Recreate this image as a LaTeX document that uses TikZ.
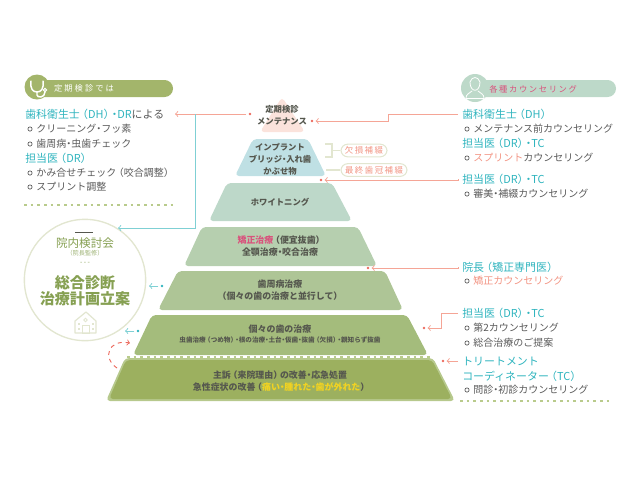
\documentclass[tikz,border=0pt]{standalone}
\usepackage{fontspec}
\usetikzlibrary{calc}
\setmainfont{Noto Sans CJK JP}
\definecolor{tealtext}{HTML}{2FB4BE}
\definecolor{tealline}{HTML}{7FD0D4}
\definecolor{greytext}{HTML}{5A5A5A}
\definecolor{darktext}{HTML}{55574E}
\definecolor{salmon}{HTML}{F5A596}
\definecolor{salmontext}{HTML}{F29483}
\definecolor{reddot}{HTML}{EC6A5E}
\definecolor{rosetext}{HTML}{D9527C}
\definecolor{olive}{HTML}{A3B56B}
\definecolor{olivetext}{HTML}{86A052}
\definecolor{mint}{HTML}{BDD9C9}
\definecolor{paleline}{HTML}{E2E6D0}
\definecolor{dotgreen}{HTML}{B9CB8C}
\definecolor{tiera}{HTML}{FBE3DC}
\definecolor{tierb}{HTML}{BFE0E4}
\definecolor{tierc}{HTML}{BDD8C9}
\definecolor{tierd}{HTML}{B6CFAF}
\definecolor{tiere}{HTML}{AEC596}
\definecolor{tierf}{HTML}{A4BC7C}
\definecolor{tierg}{HTML}{9CB05F}
\definecolor{tiergedge}{HTML}{B7C98D}
\definecolor{yellowtext}{HTML}{F2D321}
\def\lp{\kern-.25em（}
\def\rp{）\kern-.25em}
\def\md{\kern-.25em・\kern-.25em}
\tikzset{
	tier/.style={rounded corners=3, draw=none},
	tierlabel/.style={align=center, inner sep=0, text=darktext, font=\fontsize{6.25}{9}\selectfont\bfseries},
	lowerlabel/.style={tierlabel, font=\fontsize{6.7}{9}\selectfont\bfseries},
	listhead/.style={anchor=west, inner sep=0, text=tealtext, font=\fontsize{8.2}{10}\selectfont},
	listitem/.style={anchor=west, inner sep=0, text=greytext, font=\fontsize{7.5}{10}\selectfont},
	bulletmark/.style={circle, draw=greytext, line width=0.5, inner sep=0, minimum size=3.2},
	pinkline/.style={draw=salmon, line width=0.7},
	tealarrow/.style={draw=tealline, line width=0.7},
	reddotmark/.style={circle, fill=reddot, inner sep=0, minimum size=2},
	tealdotmark/.style={circle, fill=tealtext, inner sep=0, minimum size=2},
	tagpill/.style={draw=paleline, line width=0.8, fill=white, rounded corners=5, inner sep=0, minimum height=9.5, text=salmontext, font=\fontsize{6.3}{8}\selectfont\addfontfeature{LetterSpace=18}},
	dotrule/.style={draw=dotgreen, line width=0.8, dash pattern=on 2 off 3},
	icon/.style={draw=white, line width=1.1, line cap=round}
}
\begin{document}
\begin{tikzpicture}[x=0.75pt, y=-0.75pt]
	%%%%% START %%%%%
	\useasboundingbox (0, 0) rectangle (640, 480);
	
	% pyramid
	\fill[tier, fill=tiera] (282, 97) -- (305, 132) -- (260, 132) -- cycle;
	\fill[tier, fill=tierb] (253, 139) -- (308, 139) -- (326, 176) -- (235, 176) -- cycle;
	\fill[tier, fill=tierc] (227, 183) -- (332, 183) -- (352, 221) -- (209, 221) -- cycle;
	\fill[tier, fill=tierd] (202, 227) -- (358, 227) -- (377, 266) -- (184, 266) -- cycle;
	\fill[tier, fill=tiere] (178, 271) -- (385, 271) -- (403, 310) -- (158, 310) -- cycle;
	\fill[tier, fill=tierf] (152, 315) -- (407, 315) -- (428, 355) -- (133, 355) -- cycle;
	\fill[tier, fill=tiergedge] (125, 358) -- (433, 358) -- (455, 401) -- (106, 401) -- cycle;
	\fill[tier, fill=tierg] (126, 360) -- (432, 360) -- (452, 399) -- (109, 399) -- cycle;
	\draw[dotrule] (127, 357) -- (432, 357);
	
	\node[tierlabel] (maint) at (282, 115) {定期検診\\メンテナンス};
	\node[tierlabel] (implant) at (280, 159) {インプラント\\ブリッジ\md 入れ歯\\かぶせ物};
	\node[tierlabel] (white) at (280, 202) {ホワイトニング};
	\node[lowerlabel] (ortho) at (280, 246) {{\color{rosetext}矯正治療}\lp 便宜抜歯\rp\\全顎治療\md 咬合治療};
	\node[lowerlabel] (perio) at (280, 290) {歯周病治療\\（個々の歯の治療と並行して）};
	\node[lowerlabel] (each) at (280, 329) {個々の歯の治療};
	\node[tierlabel, font=\fontsize{4.95}{6}\selectfont\bfseries] (eachsub) at (280, 339.5) {虫歯治療\lp つめ物\rp\md 根の治療\md 土台\md 仮歯\md 抜歯\lp 欠損\rp\md 親知らず抜歯};
	\node[lowerlabel] (urgent) at (280, 381) {主訴\lp 来院理由\rp の改善\md 応急処置\\急性症状の改善\lp{\color{yellowtext}痛い\md 腫れた\md 歯が外れた}\rp};
	
	% tags
	\node[tagpill, minimum width=34.5] (tagloss) at (364, 150.5) {欠損補綴};
	\node[tagpill, minimum width=49.5] (tagcrown) at (374, 170) {最終歯冠補綴};
	\draw[draw=paleline, line width=1] (325, 144) -- (332, 144) -- (332, 157) -- (325, 157);
	\coordinate (bracketmid) at (332, 150.5);
	\coordinate (crownfoot) at (326, 170);
	\draw[draw=paleline, line width=1] (bracketmid) -- (tagloss.west);
	\draw[draw=paleline, line width=1] (crownfoot) -- (tagcrown.west);
	
	% left header
	\fill[olive, rounded corners=6.3] (30, 80) rectangle (173, 97);
	\fill[olive] (37, 87) circle (12.5);
	\draw[icon] (31, 81) .. controls (30, 89) and (33, 92) .. (37, 92) .. controls (41, 92) and (44, 89) .. (43, 81);
	\draw[icon] (37, 92) -- (37, 95) .. controls (37, 98) and (45, 98) .. (45, 92);
	\draw[icon, line width=0.8] (45, 90) circle (1.6);
	\node[inner sep=0, text=white, font=\fontsize{6.2}{8}\selectfont\addfontfeature{LetterSpace=25}] (lefthead) at (84, 88.5) {定期検診では};
	
	% left list
	\node[listhead] (hygienist) at (25, 114) {歯科衛生士\lp DH\rp\md DR{\color{greytext}による}};
	\node[bulletmark] (lb1) at (30, 129) {};
	\node[listitem] (cleaning) at (36, 129) {クリーニング\md フッ素};
	\node[bulletmark] (lb2) at (30, 144) {};
	\node[listitem] (caries) at (36, 144) {歯周病\md 虫歯チェック};
	\node[listhead] (dra) at (25, 158) {担当医\lp DR\rp};
	\node[bulletmark] (lb3) at (30, 173) {};
	\node[listitem] (bite) at (36, 173) {かみ合せチェック\lp 咬合調整\rp};
	\node[bulletmark] (lb4) at (30, 187) {};
	\node[listitem] (splint) at (36, 187) {スプリント調整};
	\coordinate (leftruleA) at (24, 205);
	\coordinate (leftruleB) at (173, 205);
	\draw[dotrule] (leftruleA) -- (leftruleB);
	
	% circle
	\node[circle, draw=paleline, line width=1, fill=white, minimum size=91, inner sep=0] (plan) at (85, 280) {};
	\draw[draw=darktext, line width=0.3] (75, 232) -- (93, 232);
	\node[inner sep=0, text=olivetext, font=\fontsize{8.7}{10}\selectfont] (meeting) at (85, 243) {院内検討会};
	\node[inner sep=0, text=olivetext!80, font=\fontsize{4.6}{6}\selectfont] (director) at (85, 253) {\lp 院長監修\rp};
	\node[inner sep=0, text=olivetext, font=\fontsize{5}{6}\selectfont] (dashes) at (85, 263) {- - -};
	\node[inner sep=0, text=olivetext, align=center, font=\fontsize{11.3}{12}\selectfont\bfseries] (plantitle) at (85, 291) {総合診断\\治療計画立案};
	\draw[draw=paleline, line width=0.9, fill=white, line join=round] (75, 321) -- (86, 312) -- (96, 321) -- (96, 333) -- (75, 333) -- cycle;
	\draw[draw=paleline, line width=0.7] (82, 325) rectangle (89, 333);
	\draw[draw=paleline, line width=0.7] (85.5, 320) circle (1.8);
	\fill[paleline] (78, 323) rectangle (80, 325);
	\fill[paleline] (92, 323) rectangle (94, 325);
	\fill[paleline] (78, 328) rectangle (80, 330);
	\fill[paleline] (92, 328) rectangle (94, 330);
	
	% right header
	\fill[mint, rounded corners=6.3] (470, 80) rectangle (616, 97);
	\fill[mint] (475, 88) circle (14);
	\draw[icon, line width=0.6] (470, 82) .. controls (470, 93) and (480, 93) .. (480, 82) .. controls (478, 76) and (472, 76) .. (470, 82);
	\draw[icon, line width=0.6] (466, 98) .. controls (466, 94) and (470, 93) .. (472, 91);
	\draw[icon, line width=0.6] (484, 98) .. controls (484, 94) and (480, 93) .. (478, 91);
	\draw[icon, line width=0.6] (466, 98) -- (484, 98);
	\node[anchor=west, inner sep=0, text=rosetext, font=\fontsize{6.2}{8}\selectfont\addfontfeature{LetterSpace=20}] (righthead) at (489, 89) {各種カウンセリング};
	
	% right list
	\node[listhead] (dh) at (462, 114) {歯科衛生士\lp DH\rp};
	\node[bulletmark] (rb1) at (467, 129) {};
	\node[listitem] (dhcare) at (473, 129) {メンテナンス前カウンセリング};
	\node[listhead] (drtc) at (462, 143) {担当医\lp DR\rp\md TC};
	\node[bulletmark] (rb2) at (467, 158) {};
	\node[listitem] (splintcare) at (473, 158) {{\color{salmontext}スプリント}カウンセリング};
	\node[listhead] (drtcb) at (462, 179) {担当医\lp DR\rp\md TC};
	\node[bulletmark] (rb3) at (467, 194) {};
	\node[listitem] (esthetic) at (473, 194) {審美\md 補綴カウンセリング};
	\node[listhead] (head) at (462, 267) {院長\lp 矯正専門医\rp};
	\node[bulletmark] (rb4) at (467, 281) {};
	\node[listitem, text=salmontext] (orthocare) at (473, 281) {矯正カウンセリング};
	\node[listhead] (drtcc) at (462, 313) {担当医\lp DR\rp\md TC};
	\node[bulletmark] (rb5) at (467, 328) {};
	\node[listitem] (second) at (473, 328) {第2カウンセリング};
	\node[bulletmark] (rb6) at (467, 343) {};
	\node[listitem] (proposal) at (473, 343) {総合治療のご提案};
	\node[listhead] (coordA) at (462, 361) {トリートメント};
	\node[listhead] (coordB) at (462, 376) {コーディネーター\lp TC\rp};
	\node[bulletmark] (rb7) at (467, 390) {};
	\node[listitem] (firstvisit) at (473, 390) {問診\md 初診カウンセリング};
	\coordinate (rightruleA) at (460, 401);
	\coordinate (rightruleB) at (610, 401);
	\draw[dotrule] (rightruleA) -- (rightruleB);
	
	% connectors
	\node[reddotmark] (dotmaint) at (250, 114) {};
	\node[reddotmark] (dotmaintr) at (312, 121) {};
	\node[reddotmark] (dotimplant) at (321, 180) {};
	\node[reddotmark] (dotortho) at (368, 268) {};
	\node[reddotmark] (doteach) at (424, 328) {};
	\node[reddotmark] (doturgent) at (443, 361) {};
	\node[tealdotmark] (dotperio) at (162, 286) {};
	\node[tealdotmark] (dotfirst) at (138, 331) {};
	\coordinate (lefttip) at (175, 114);
	\coordinate (tealtop) at (195, 114);
	\coordinate (tealcorner) at (195, 228);
	\coordinate (tealtip) at (118, 228);
	\coordinate (perioTip) at (149, 286);
	\coordinate (firstTip) at (125, 331);
	\coordinate (bendA) at (388, 121);
	\coordinate (bendB) at (388, 114);
	\coordinate (bendC) at (441, 328);
	\coordinate (bendD) at (441, 313);
	\coordinate (curveA) at (117, 368);
	\coordinate (curveB) at (130, 343);
	
	\draw[pinkline, ->] (dotmaint.west) ++(-2, 0) -- (lefttip);
	\draw[tealarrow, ->] (tealtop) -- (tealcorner) -- (tealtip);
	\draw[pinkline, ->] (dh.west) ++(-4, 0) -- (bendB) -- (bendA) -- ($(dotmaintr.east)+(2, 0)$);
	\draw[pinkline, ->] (drtcb.west) ++(-4, 0) |- ($(dotimplant.east)+(2, 0)$);
	\draw[pinkline, ->] (head.west) ++(-4, 0) |- ($(dotortho.east)+(2, 0)$);
	\draw[pinkline, ->] (drtcc.west) ++(-4, 0) -- (bendD) -- (bendC) -- ($(doteach.east)+(2, 0)$);
	\draw[pinkline, ->] (coordA.west) ++(-4, 0) -- ($(doturgent.east)+(2, 0)$);
	\draw[tealarrow, ->] (dotperio.west) ++(-2, 0) -- (perioTip);
	\draw[tealarrow, ->] (dotfirst.west) ++(-2, 0) -- (firstTip);
	\draw[draw=reddot, line width=0.7, dashed, ->] (curveA) .. controls (102, 358) and (108, 339) .. (curveB);
	
	%%%%% END %%%%%
\end{tikzpicture}
\end{document}
